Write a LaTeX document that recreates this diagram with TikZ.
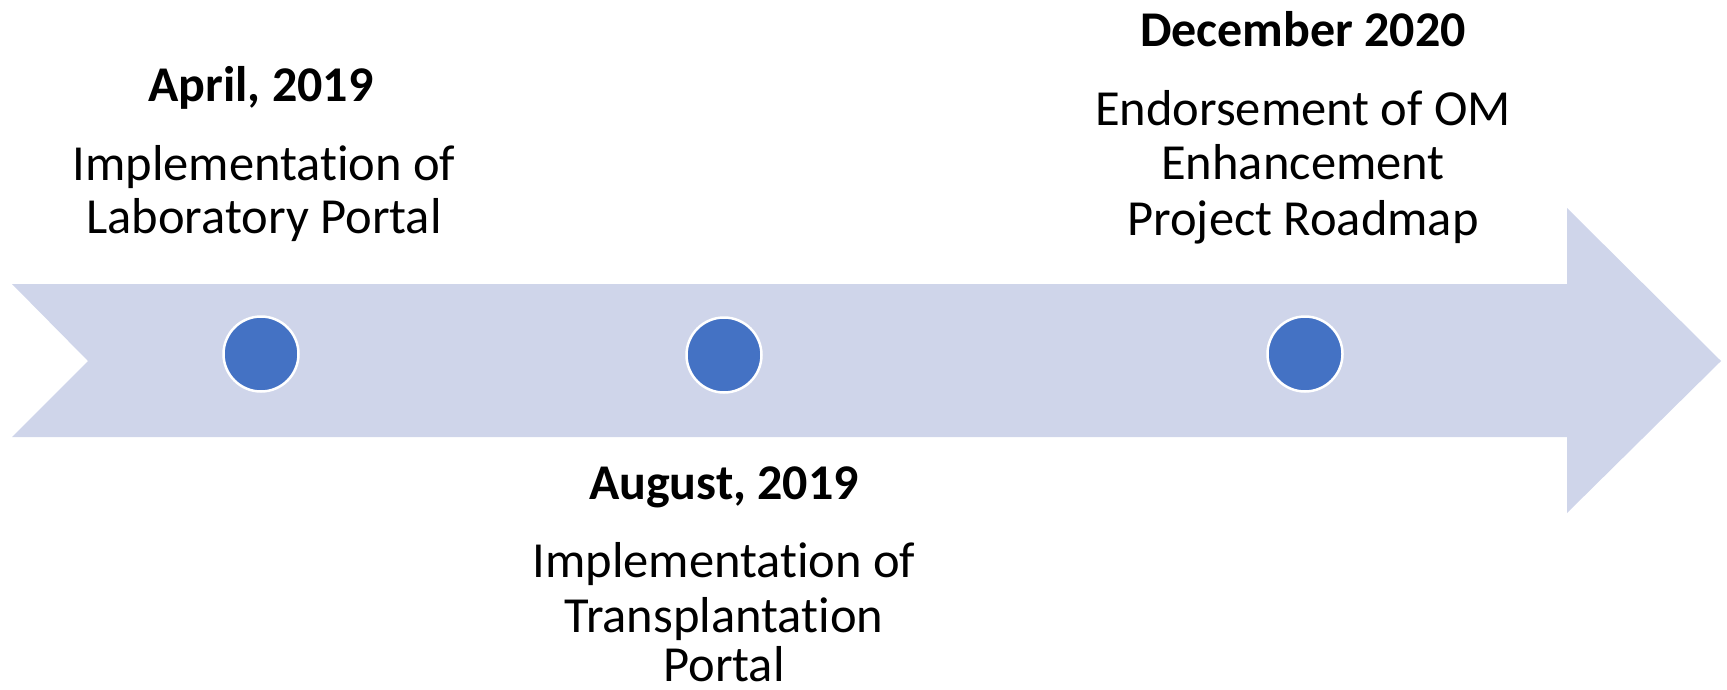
\documentclass[tikz,border=0pt]{standalone}
\usepackage{fontspec}
\setmainfont{Carlito}[Ligatures=NoCommon]
\definecolor{bandfill}{HTML}{CFD5EA}
\definecolor{dotfill}{HTML}{4472C4}
\begin{document}
\begin{tikzpicture}[x=1pt,y=-1pt,
  dot/.style={circle,fill=dotfill,draw=white,line width=2.5pt,minimum size=75pt,inner sep=0pt},
  head/.style={anchor=base,font=\fontsize{50}{58}\selectfont\bfseries,inner sep=0pt},
  body/.style={anchor=base,font=\fontsize{50.5}{58}\selectfont,inner sep=0pt}]
\useasboundingbox (0,0) rectangle (1727,689);
\fill[bandfill] (12,284) -- (1567,284) -- (1567,208) -- (1721,361) -- (1567,513) -- (1567,437) -- (12,437) -- (88,361) -- cycle;
\node[dot] (d1) at (261,354) {};
\node[dot] (d2) at (724,355) {};
\node[dot] (d3) at (1305,354) {};
\node[head] (h1) at (261,101) {April, 2019};
\node[body] (t1a) at (264,180) {Implementation of};
\node[body] (t1b) at (264,233) {Laboratory Portal};
\node[head] (h3) at (1303,46) {December 2020};
\node[body] (t3a) at (1303,125) {Endorsement of OM};
\node[body] (t3b) at (1303,179) {Enhancement};
\node[body] (t3c) at (1303,235) {Project Roadmap};
\node[head] (h2) at (724,499) {August, 2019};
\node[body] (t2a) at (724,577) {Implementation of};
\node[body] (t2b) at (724,632) {Transplantation};
\node[body,text depth=0pt] (t2c) at (724,681) {Portal};
\end{tikzpicture}
\end{document}
